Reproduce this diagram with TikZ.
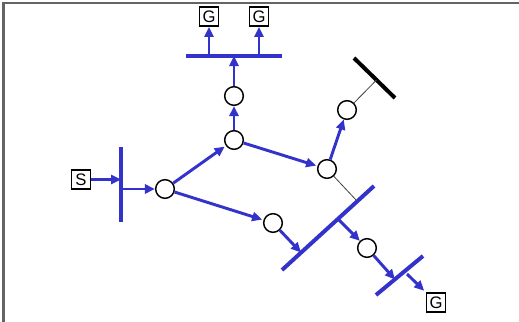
\documentclass[tikz,border=0pt]{standalone}
\usepackage{fontspec}
\setmainfont{Liberation Sans}
\usetikzlibrary{arrows.meta}
\definecolor{bl}{RGB}{51,51,204}
\definecolor{frame}{RGB}{100,100,100}
\begin{document}
\begin{tikzpicture}[x=0.75pt,y=-0.75pt,
  bus/.style={bl, line width=3pt},
  flow/.style={bl, line width=2.2pt, -{Triangle[length=7.5pt,width=6.8pt]}},
  st/.style={circle, draw, line width=1.1pt, fill=white, minimum size=14pt, inner sep=0pt},
  term/.style={draw, line width=1.1pt, minimum size=14.5pt, inner sep=0pt, font=\fontsize{12.5}{12.5}\selectfont},
  thin/.style={draw=black!75, line width=0.6pt},
]
\useasboundingbox (0,0) rectangle (519,322);
\draw[frame, line width=1.5pt] (3.5,322) -- (3.5,2.5) -- (519,2.5);

% terminals
\node[term] (S) at (81,179.5) {S};
\node[term] (G1) at (209,16.5) {G};
\node[term] (G2) at (259,16.5) {G};
\node[term] (G3) at (436,302.5) {G};

% bus bars
\coordinate (b1t) at (121,147);
\coordinate (b1b) at (121,222);
\draw[bus] (b1t) -- (b1b);
\coordinate (tbl) at (186,56);
\coordinate (tbr) at (282,56);
\draw[bus] (tbl) -- (tbr);
\coordinate (kl) at (354,58);
\coordinate (kr) at (395,98);
\draw[black, line width=3pt] (kl) -- (kr);
\coordinate (lbl) at (282,270);
\coordinate (lbr) at (374,186);
\draw[bus] (lbl) -- (lbr);
\coordinate (sbl) at (376,295);
\coordinate (sbr) at (423,256);
\draw[bus] (sbl) -- (sbr);

% stations
\node[st] (c1) at (165,189) {};
\node[st] (c2) at (234,140) {};
\node[st] (c3) at (234,96) {};
\node[st] (c4) at (327,169) {};
\node[st] (c5) at (347,110) {};
\node[st] (c6) at (273,223) {};
\node[st] (c7) at (367,248) {};

% points on bars
\coordinate (b1in) at (121,179.5);
\coordinate (b1out) at (121,189);
\coordinate (tbin) at (234,56);
\coordinate (tb1) at (209,56);
\coordinate (tb2) at (259,56);
\coordinate (kin) at (376.5,80);
\coordinate (lbk) at (357,201);
\coordinate (lbin) at (301,252.5);
\coordinate (lbout) at (338,219);
\coordinate (sbin) at (395,279.5);
\coordinate (sbout) at (407,274);

% thin connectors
\draw[thin] (c5) -- (kin);
\draw[thin] (c4) -- (lbk);

% flows
\draw[flow] (S) -- (b1in);
\draw[flow] (b1out) -- (c1);
\draw[flow, shorten >=1pt] (c1) -- (c2);
\draw[flow, shorten >=1pt] (c1) -- (c6);
\draw[flow] (c2) -- (c3);
\draw[flow] (c3) -- (tbin);
\draw[flow] (tb1) -- (G1);
\draw[flow] (tb2) -- (G2);
\draw[flow, shorten >=1pt] (c2) -- (c4);
\draw[flow] (c4) -- (c5);
\draw[flow] (c6) -- (lbin);
\draw[flow] (lbout) -- (c7);
\draw[flow] (c7) -- (sbin);
\draw[flow, shorten >=1.5pt] (sbout) -- (G3.north west);
\end{tikzpicture}
\end{document}
